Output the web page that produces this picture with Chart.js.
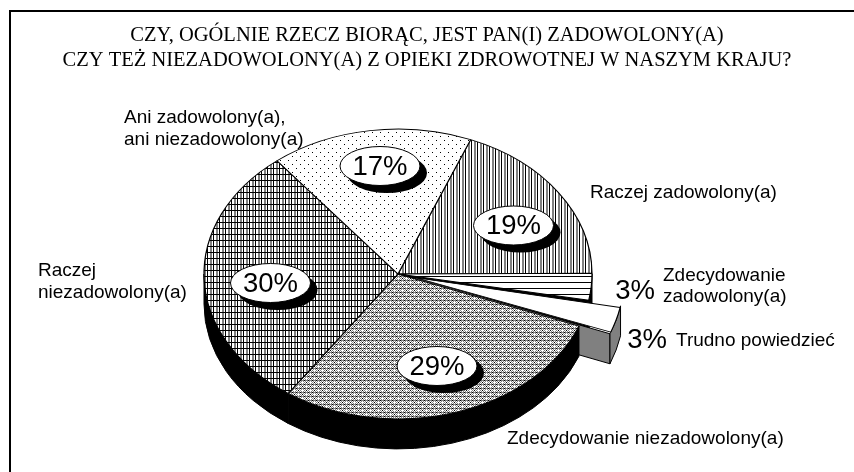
<!DOCTYPE html>
<html>
<head>
<meta charset="utf-8">
<style>
  html, body { margin: 0; padding: 0; background: #fff; }
  canvas { display: block; }
</style>
<script src="https://cdn.jsdelivr.net/npm/chart.js@4/dist/chart.umd.min.js"></script>
</head>
<body>
<canvas id="chart" width="854" height="472"></canvas>
<script>
// Data, clockwise from the top right slice
const categories = ['Raczej zadowolony(a)', 'Zdecydowanie zadowolony(a)', 'Trudno powiedzieć',
    'Zdecydowanie niezadowolony(a)', 'Raczej niezadowolony(a)', 'Ani zadowolony(a), ani niezadowolony(a)'];
const values = [19, 3, 3, 29, 30, 17];
const titleLines = ['CZY, OGÓLNIE RZECZ BIORĄC, JEST PAN(I) ZADOWOLONY(A)',
    'CZY TEŻ NIEZADOWOLONY(A) Z OPIEKI ZDROWOTNEJ W NASZYM KRAJU?'];

// Look of the pie
const center = { x: 398, y: 274 };
const pieRadius = 194;
const tilt = 0.747;
const depth = 30;
const sliceOffsets = [0, 0, 72, 0, 0, 0];
const wallColors = ['#000', '#000', '#808080', '#000', '#000', '#000'];

// Label placement: [text, left, baseline]
const sliceLabels = [
    ['Ani zadowolony(a),', 124, 123],
    ['ani niezadowolony(a)', 124, 145],
    ['Raczej zadowolony(a)', 590, 198],
    ['Raczej', 38, 276],
    ['niezadowolony(a)', 38, 298],
    ['Zdecydowanie', 663, 281],
    ['zadowolony(a)', 663, 302],
    ['Trudno powiedzieć', 676, 346],
    ['Zdecydowanie niezadowolony(a)', 507, 444]
];
// Percent badges per slice: [x, y, has bubble]
const percentSpots = [
    [513.5, 225.5, true],
    [635, 290, false],
    [647, 339, false],
    [437, 366, true],
    [270.5, 283, true],
    [380, 166, true]
];

function makePattern(rows) {
    const tile = document.createElement('canvas');
    tile.width = rows[0].length;
    tile.height = rows.length;
    const c = tile.getContext('2d');
    const colors = { '.': '#fff', g: '#808080', k: '#000' };
    rows.forEach((row, y) => {
        [...row].forEach((ch, x) => {
            c.fillStyle = colors[ch];
            c.fillRect(x, y, 1, 1);
        });
    });
    return c.createPattern(tile, 'repeat');
}

const patterns = {
    vertical: makePattern(['gg.k..']),
    horizontal: makePattern(['k', '.', '.', '.', '.', '.']),
    diamonds: makePattern(['kgggkggg', '.g.g.g.g', 'g...g.k.', '.g.g.g.g', 'kgggkggg', '.g.g.g.g', 'g.k.g...', '.g.g.g.g']),
    cross: makePattern(['kkkkkk', 'gg.k..', 'gg.k..', 'gg.k..', 'gg.k..', 'gg.k..']),
    dots: makePattern(['k.......', '........', '........', '........', '....k...', '........', '........', '........'])
};
const sliceFills = [patterns.vertical, patterns.horizontal, '#fff', patterns.diamonds, patterns.cross, patterns.dots];

// Where a slice really sits on the page, offset included
function sliceGeometry(arc, i) {
    const mid = (arc.startAngle + arc.endAngle) / 2;
    const shift = sliceOffsets[i] / 4;
    const grow = shift * (1 - Math.sin(Math.min(Math.PI, arc.circumference)));
    return {
        x: center.x + Math.cos(mid) * shift,
        y: center.y + Math.sin(mid) * shift * tilt,
        r: arc.outerRadius + grow
    };
}

function drawWalls(ctx, arcs) {
    ctx.lineWidth = 1;
    ctx.strokeStyle = '#000';
    arcs.forEach((arc, i) => {
        const g = sliceGeometry(arc, i);
        const ry = g.r * tilt;
        ctx.fillStyle = wallColors[i];

        // Cut face next to an exploded slice
        const nextOut = sliceOffsets[(i + 1) % arcs.length] > 0;
        if (sliceOffsets[i] > 0 || nextOut) {
            const ex = g.x + Math.cos(arc.endAngle) * g.r;
            const ey = g.y + Math.sin(arc.endAngle) * ry;
            ctx.beginPath();
            ctx.moveTo(g.x, g.y);
            ctx.lineTo(ex, ey);
            ctx.lineTo(ex, ey + depth);
            ctx.lineTo(g.x, g.y + depth);
            ctx.closePath();
            ctx.fill();
            ctx.stroke();
        }

        // Outer rim, front half only
        const lo = Math.max(arc.startAngle, 0);
        const hi = Math.min(arc.endAngle, Math.PI);
        if (lo < hi) {
            ctx.beginPath();
            ctx.ellipse(g.x, g.y, g.r, ry, 0, lo, hi);
            ctx.ellipse(g.x, g.y + depth, g.r, ry, 0, hi, lo, true);
            ctx.closePath();
            ctx.fill();
            ctx.stroke();
        }
    });
}

const tiltPlugin = {
    id: 'tilt',
    beforeDraw(chart) {
        // Frame only runs along the top and the left
        const ctx = chart.ctx;
        ctx.fillStyle = '#000';
        ctx.fillRect(9, 10, 845, 2);
        ctx.fillRect(9, 10, 2, 462);
    },
    beforeDatasetsDraw(chart) {
        const ctx = chart.ctx;
        const arcs = chart.getDatasetMeta(0).data;
        const cx = arcs[0].x;
        const cy = arcs[0].y;
        const tx = center.x - cx;

        drawWalls(ctx, arcs);

        // Keep the hatching at one device pixel per tile pixel
        Object.values(patterns).forEach(p => {
            p.setTransform(new DOMMatrix().translate(-tx, cy - center.y / tilt).scale(1, 1 / tilt));
        });

        ctx.save();
        ctx.imageSmoothingEnabled = false;
        ctx.translate(tx, center.y);
        ctx.scale(1, tilt);
        ctx.translate(0, -cy);
    },
    afterDatasetsDraw(chart) {
        chart.ctx.restore();
    },
    afterDraw(chart) {
        const ctx = chart.ctx;
        ctx.save();

        values.forEach((v, i) => {
            const [x, y, bubble] = percentSpots[i];
            if (bubble) {
                ctx.fillStyle = '#000';
                ctx.beginPath();
                ctx.ellipse(x + 7, y + 7, 40, 20, 0, 0, Math.PI * 2);
                ctx.fill();
                ctx.fillStyle = '#fff';
                ctx.strokeStyle = '#000';
                ctx.lineWidth = 1;
                ctx.beginPath();
                ctx.ellipse(x, y, 40, 19.5, 0, 0, Math.PI * 2);
                ctx.fill();
                ctx.stroke();
            }
            ctx.fillStyle = '#000';
            ctx.font = '27.5px "Liberation Sans"';
            ctx.textAlign = 'center';
            ctx.textBaseline = 'middle';
            ctx.fillText(v + '%', x, y + 1);
        });

        ctx.font = '19px "Liberation Sans"';
        ctx.textAlign = 'left';
        ctx.textBaseline = 'alphabetic';
        ctx.fillStyle = '#000';
        sliceLabels.forEach(([text, x, y]) => ctx.fillText(text, x, y));
        ctx.restore();
    }
};

new Chart(document.getElementById('chart'), {
    type: 'pie',
    data: {
        labels: categories,
        datasets: [{
            data: values,
            backgroundColor: sliceFills,
            borderColor: '#000',
            borderWidth: 1.2,
            offset: sliceOffsets,
            clip: false
        }]
    },
    options: {
        responsive: false,
        animation: false,
        events: [],
        rotation: 22,
        radius: pieRadius,
        plugins: {
            legend: { display: false },
            tooltip: { enabled: false },
            title: {
                display: true,
                text: titleLines,
                color: '#000',
                font: { family: '"Liberation Serif"', size: 20.5, weight: 'normal', lineHeight: 1.22 },
                padding: { top: 23, bottom: 0 }
            }
        }
    },
    plugins: [tiltPlugin]
});
</script>
</body>
</html>
